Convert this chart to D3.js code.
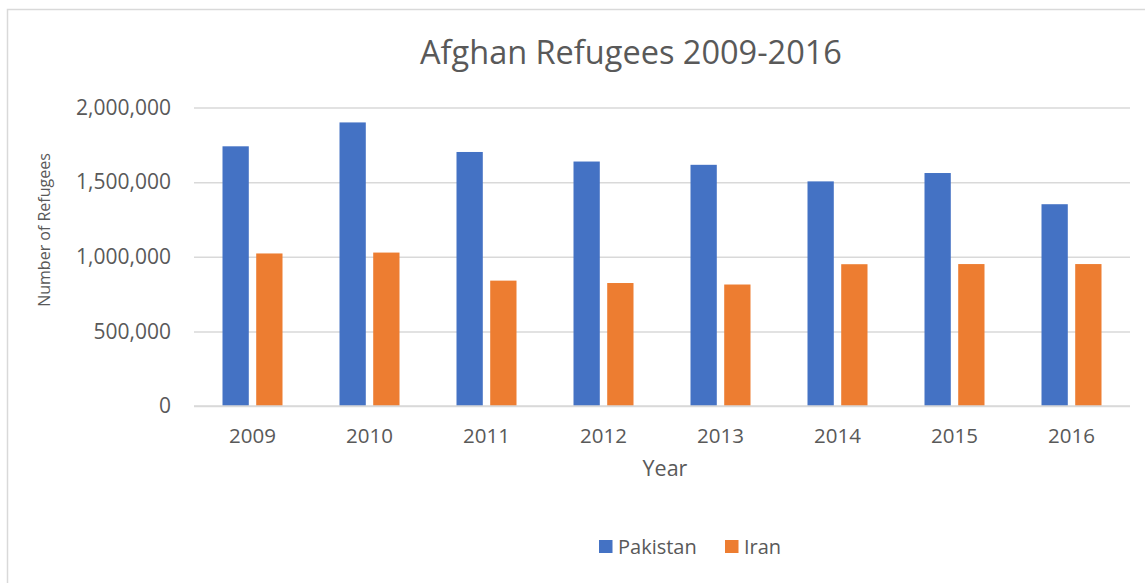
<!DOCTYPE html>
<html>
<head>
<meta charset="utf-8">
<script src="https://cdn.jsdelivr.net/npm/d3@7"></script>
<style>
  html, body { margin: 0; padding: 0; background: #fff; }
  svg { display: block; font-family: "Open Sans", sans-serif; }
</style>
</head>
<body>
<div id="chart"></div>
<script>
// values
const years = ['2009', '2010', '2011', '2012', '2013', '2014', '2015', '2016'];
const series = ['Pakistan', 'Iran'];
const pakistan = [1740000, 1900000, 1702000, 1638000, 1616000, 1505000, 1561000, 1352000];
const iran = [1022000, 1028000, 840000, 824000, 814000, 950000, 951000, 951000];
const yTicks = [0, 500000, 1000000, 1500000, 2000000];
const colors = ['#4472C4', '#ED7D31'];

const width = 1145, height = 583;
const margin = { top: 107.5, right: 15, bottom: 177, left: 194 };
const textColor = '#595959';

const svg = d3.select('#chart').append('svg')
  .attr('width', width)
  .attr('height', height);

// chart frame (cut off at right and bottom, like the reference)
svg.append('rect')
  .attr('x', 7.5).attr('y', 9.5)
  .attr('width', width + 10).attr('height', height + 10)
  .attr('fill', 'none')
  .attr('stroke', '#d9d9d9')
  .attr('stroke-width', 1.5);

const x0 = d3.scaleBand()
  .domain(years)
  .range([margin.left, width - margin.right]);

const x1 = d3.scaleBand()
  .domain(series)
  .range([x0.bandwidth() / 2 - 30, x0.bandwidth() / 2 + 30])
  .paddingInner(0.22);

const y = d3.scaleLinear()
  .domain([0, 2000000])
  .range([height - margin.bottom, margin.top]);

// gridlines
const yAxis = d3.axisLeft(y)
  .tickValues(yTicks)
  .tickSize(-(x0.range()[1] - x0.range()[0]))
  .tickPadding(23)
  .tickFormat(d3.format(','));

const gy = svg.append('g')
  .attr('transform', 'translate(' + margin.left + ',0)')
  .call(yAxis);
gy.select('.domain').remove();
gy.selectAll('.tick line')
  .attr('stroke', '#d9d9d9')
  .attr('stroke-width', 1.5);
gy.selectAll('.tick text')
  .attr('fill', textColor)
  .style('font-size', '21px')
  .style('font-family', '"Open Sans", sans-serif');

// bars
const rows = years.map((yr, i) => ({ year: yr, values: [pakistan[i], iran[i]] }));

const groups = svg.append('g')
  .selectAll('g')
  .data(rows)
  .enter()
  .append('g')
  .attr('transform', d => 'translate(' + x0(d.year) + ',0)');

groups.selectAll('rect')
  .data(d => d.values.map((v, j) => ({ key: series[j], value: v, idx: j })))
  .enter()
  .append('rect')
  .attr('x', d => x1(d.key))
  .attr('y', d => y(d.value))
  .attr('width', x1.bandwidth())
  .attr('height', d => y(0) - y(d.value))
  .attr('fill', d => colors[d.idx]);

// x axis labels
const xAxis = d3.axisBottom(x0).tickSize(0).tickPadding(22);
const gx = svg.append('g')
  .attr('transform', 'translate(0,' + y(0) + ')')
  .call(xAxis);
gx.select('.domain').remove();
gx.selectAll('.tick text')
  .attr('fill', textColor)
  .style('font-size', '20.5px')
  .style('font-family', '"Open Sans", sans-serif');

// redraw baseline above bars
svg.append('line')
  .attr('x1', x0.range()[0]).attr('x2', x0.range()[1])
  .attr('y1', y(0)).attr('y2', y(0))
  .attr('stroke', '#d9d9d9')
  .attr('stroke-width', 1.5);

// title
svg.append('text')
  .attr('x', 631).attr('y', 64)
  .attr('text-anchor', 'middle')
  .attr('fill', textColor)
  .style('font-size', '32.5px')
  .text('Afghan Refugees 2009-2016');

// axis titles
svg.append('text')
  .attr('transform', 'translate(50,230) rotate(-90)')
  .attr('text-anchor', 'middle')
  .attr('fill', textColor)
  .style('font-size', '16px')
  .text('Number of Refugees');

svg.append('text')
  .attr('x', 665).attr('y', 476)
  .attr('text-anchor', 'middle')
  .attr('fill', textColor)
  .style('font-size', '21.5px')
  .text('Year');

// legend
const legend = svg.append('g').attr('transform', 'translate(599,540)');
const legendX = [0, 126];
series.forEach((s, i) => {
  const g = legend.append('g').attr('transform', 'translate(' + legendX[i] + ',0)');
  g.append('rect')
    .attr('width', 13.5).attr('height', 13)
    .attr('fill', colors[i]);
  g.append('text')
    .attr('x', 19).attr('y', 13.5)
    .attr('fill', textColor)
    .style('font-size', '20px')
    .text(s);
});
</script>
</body>
</html>
